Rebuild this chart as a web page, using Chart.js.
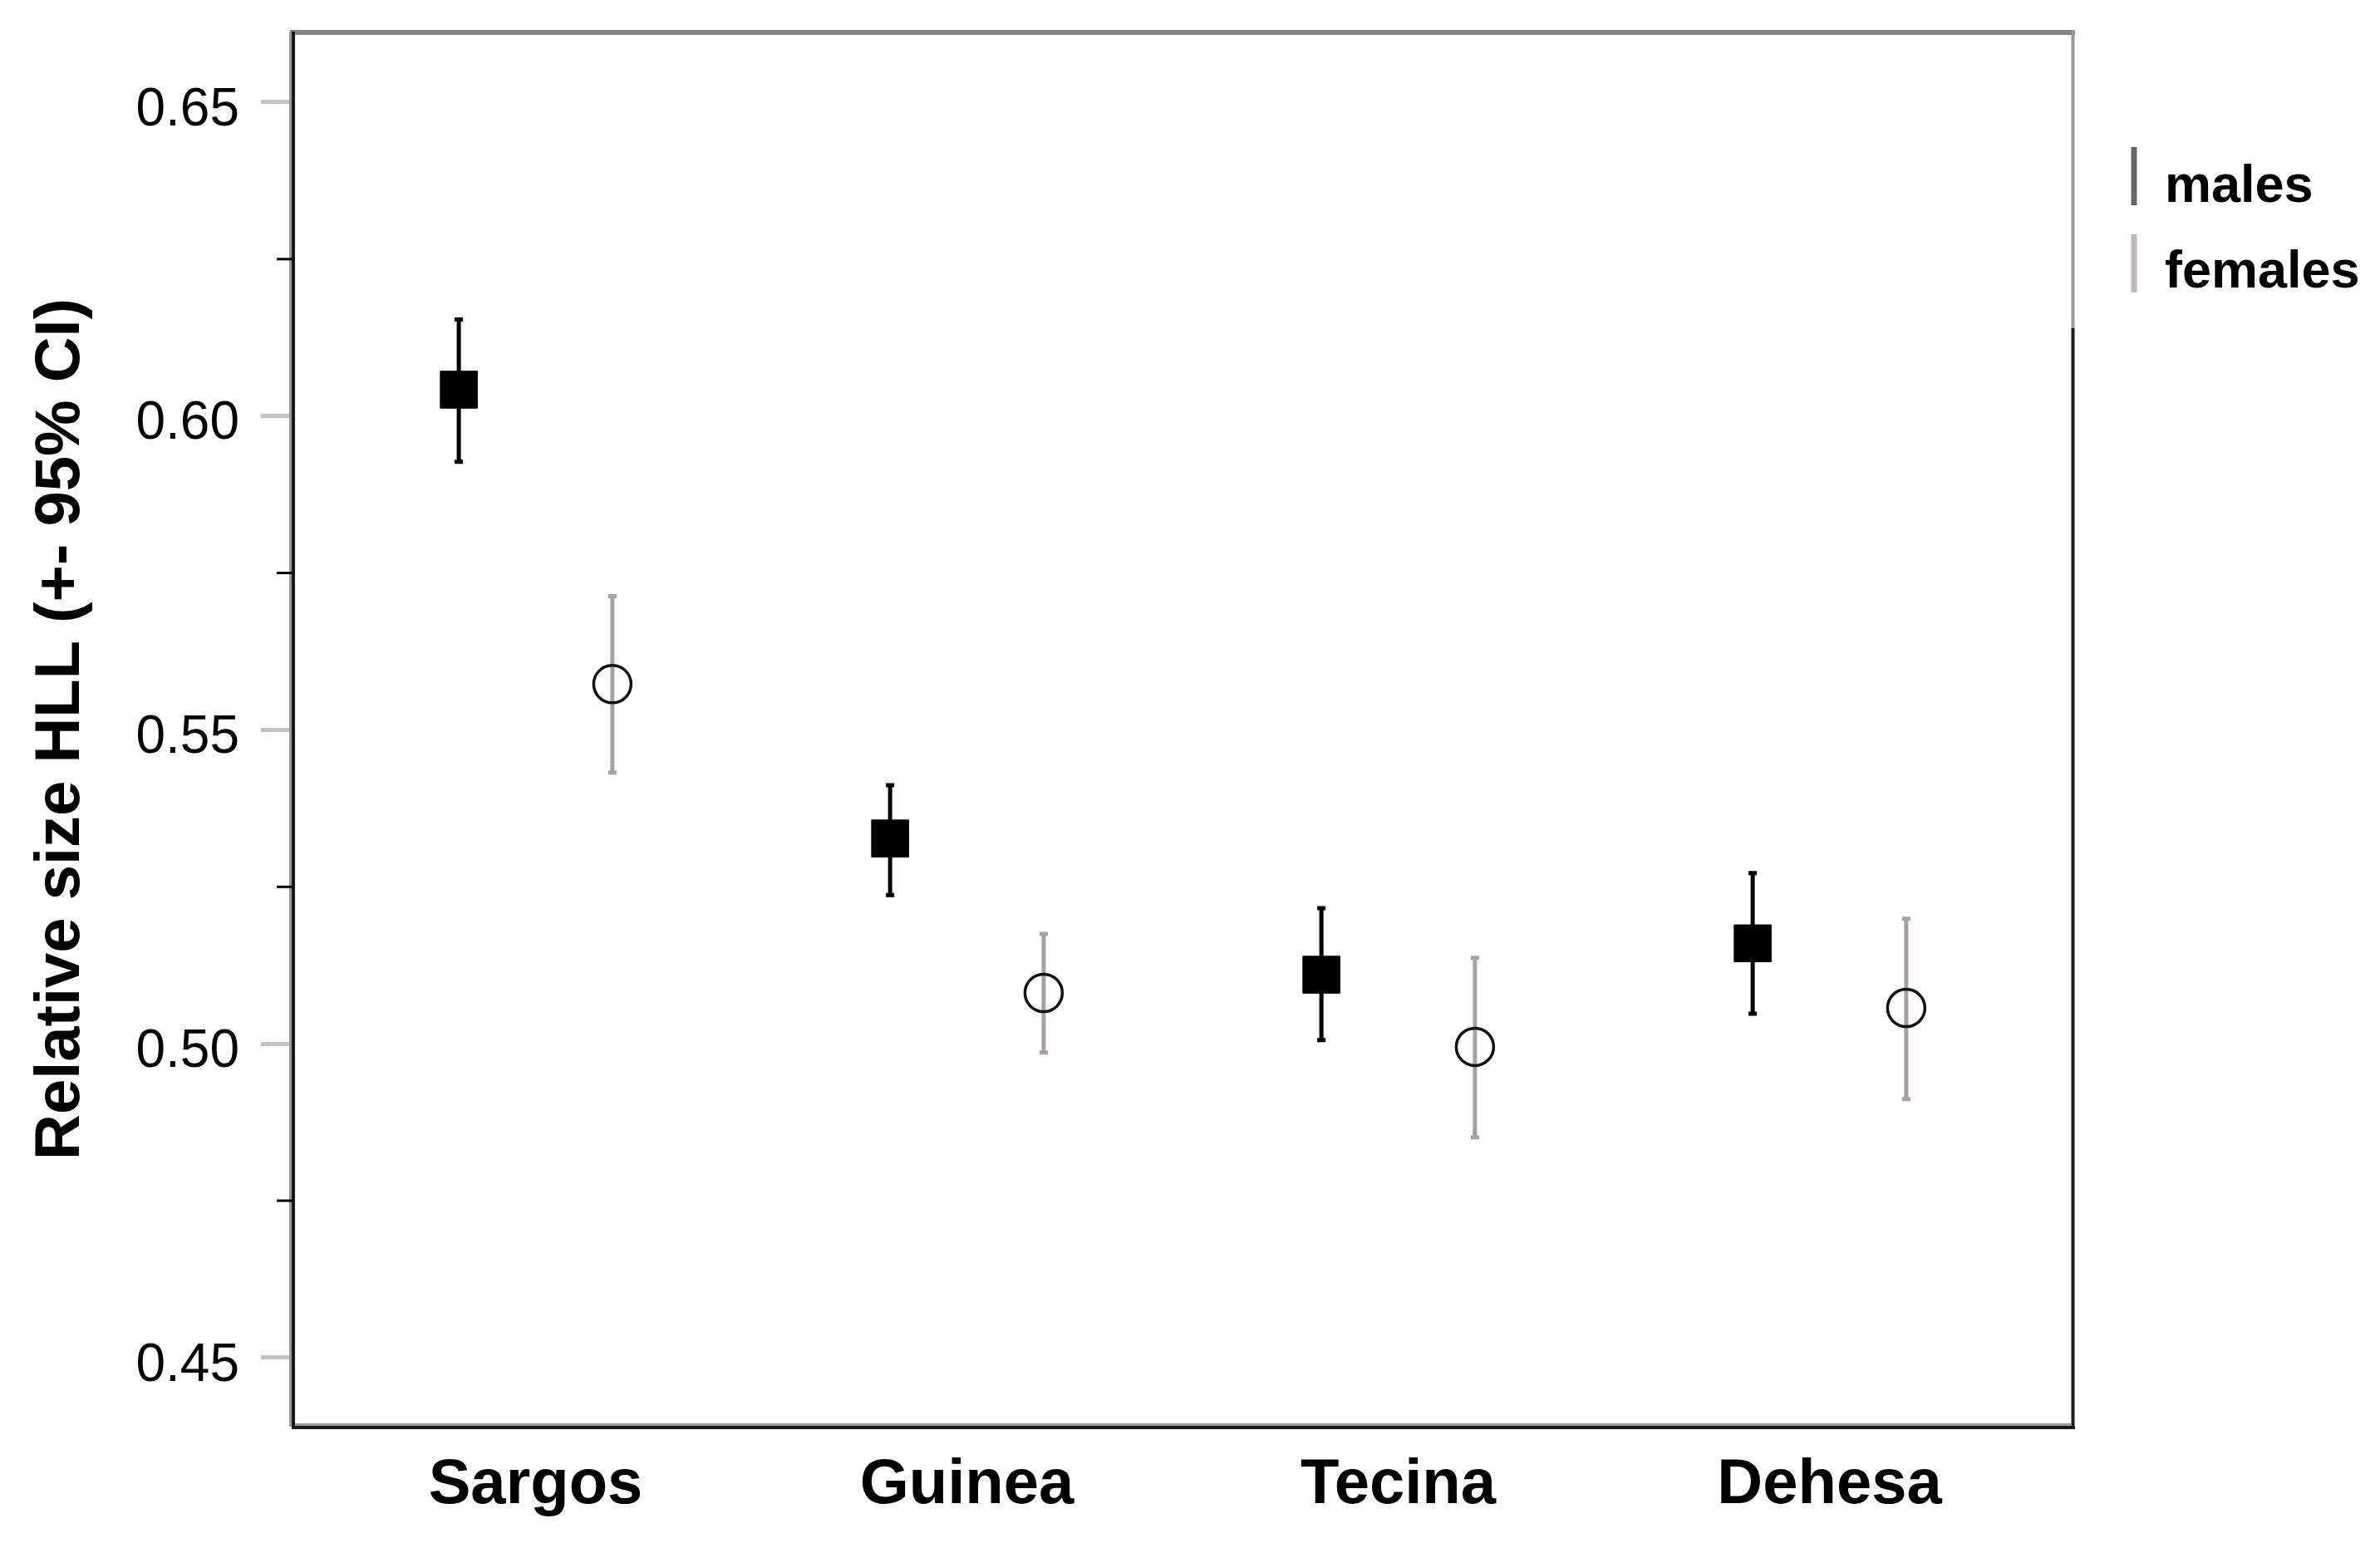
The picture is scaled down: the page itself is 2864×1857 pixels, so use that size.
<!DOCTYPE html>
<html>
<head>
<meta charset="utf-8">
<title>Relative size HLL</title>
<script src="https://cdn.jsdelivr.net/npm/chart.js@4.4.1/dist/chart.umd.min.js"></script>
<style>
  html, body { margin: 0; padding: 0; background: #fff; }
  #wrap { width: 2864px; height: 1857px; }
</style>
</head>
<body>
<div id="wrap"><canvas id="chart" width="2864" height="1857"></canvas></div>
<script>
// values
const categories = ['Sargos', 'Guinea', 'Tecina', 'Dehesa'];
const maleMean = [0.6042, 0.5327, 0.5110, 0.5160];
const maleLow = [0.5927, 0.5237, 0.5006, 0.5048];
const maleHigh = [0.6154, 0.5412, 0.5216, 0.5272];
const femaleMean = [0.5573, 0.5081, 0.4995, 0.5057];
const femaleLow = [0.5432, 0.4986, 0.4851, 0.4912];
const femaleHigh = [0.5713, 0.5175, 0.5137, 0.5199];
const seriesNames = ['males', 'females'];
const yTicks = [0.45, 0.475, 0.50, 0.525, 0.55, 0.575, 0.60, 0.625, 0.65];
const yTickLabels = ['0.45', '', '0.50', '', '0.55', '', '0.60', '', '0.65'];

const FONT = "'Liberation Sans', Arial, Helvetica, sans-serif";
const dodge = 0.178;

const points = (means, off) => means.map((v, i) => ({ x: i + off, y: v }));

// CI whiskers, drawn under the markers
const errorBars = {
  id: 'errorBars',
  beforeDatasetsDraw(chart) {
    const { ctx, scales: { x, y } } = chart;
    chart.data.datasets.forEach(ds => {
      ctx.save();
      ctx.strokeStyle = ds.barColor;
      ctx.lineWidth = 5;
      ds.data.forEach((p, i) => {
        const px = x.getPixelForValue(p.x);
        const top = y.getPixelForValue(ds.high[i]), bot = y.getPixelForValue(ds.low[i]);
        ctx.beginPath();
        ctx.moveTo(px, top); ctx.lineTo(px, bot);
        ctx.moveTo(px - 5, top); ctx.lineTo(px + 5, top);
        ctx.moveTo(px - 5, bot); ctx.lineTo(px + 5, bot);
        ctx.stroke();
      });
      ctx.restore();
    });
  }
};

// box round the plot, minor ticks and the legend on the right
const frame = {
  id: 'frame',
  afterDraw(chart) {
    const { ctx, chartArea: a, scales: { y } } = chart;
    ctx.save();
    const line = (x1, y1, x2, y2, c, w) => {
      ctx.beginPath(); ctx.strokeStyle = c; ctx.lineWidth = w;
      ctx.moveTo(x1, y1); ctx.lineTo(x2, y2); ctx.stroke();
    };
    line(a.left - 3, a.top + 1, a.right + 3, a.top + 1, '#858585', 6);
    line(a.right + 0.5, a.top - 2, a.right + 0.5, 395, '#999999', 4);
    line(a.right + 0.5, 395, a.right + 0.5, a.bottom + 3, '#1a1a1a', 4);
    line(a.left - 2.5, a.top, a.left - 2.5, a.bottom, '#9a9a9a', 3);
    line(a.left + 1, a.top, a.left + 1, a.bottom + 3, '#1a1a1a', 4);
    line(a.left + 3, a.bottom - 2.5, a.right - 2, a.bottom - 2.5, '#9a9a9a', 3);
    line(a.left - 1, a.bottom + 1, a.right + 3, a.bottom + 1, '#1a1a1a', 4);

    y.ticks.forEach((t, i) => {
      if (yTickLabels[i]) return;
      const py = y.getPixelForValue(t.value);
      line(a.left - 19, py, a.left, py, '#000', 3);
    });

    const colors = ['#666666', '#c2baba'];
    ctx.font = 'bold 63px ' + FONT;
    ctx.fillStyle = '#000';
    ctx.textBaseline = 'alphabetic';
    chart.data.datasets.forEach((ds, i) => {
      const top = 177 + i * 105;
      line(2568, top, 2568, top + 70, colors[i], 7);
      ctx.fillText(ds.label, 2605, 243 + i * 103);
    });
    ctx.restore();
  }
};

new Chart(document.getElementById('chart'), {
  type: 'scatter',
  data: {
    datasets: [
      {
        label: seriesNames[0],
        data: points(maleMean, -dodge),
        low: maleLow, high: maleHigh, barColor: '#000',
        pointStyle: 'rect', pointRadius: 31.5, borderWidth: 1,
        backgroundColor: '#000', borderColor: '#000'
      },
      {
        label: seriesNames[1],
        data: points(femaleMean, dodge),
        low: femaleLow, high: femaleHigh, barColor: '#a9a1a1',
        pointStyle: 'circle', pointRadius: 22.5, borderWidth: 3.5,
        backgroundColor: 'rgba(0,0,0,0)', borderColor: '#111'
      }
    ]
  },
  options: {
    responsive: false,
    animation: false,
    layout: { padding: { top: 38, right: 370, left: 0, bottom: 0 } },
    plugins: { legend: { display: false }, tooltip: { enabled: false } },
    scales: {
      x: {
        type: 'linear', min: -0.5636, max: 3.5636,
        afterBuildTicks: s => { s.ticks = categories.map((c, i) => ({ value: i })); },
        afterFit: s => { s.height = 140; s.paddingLeft = 0; s.paddingRight = 0; },
        grid: { display: false, drawTicks: false },
        border: { display: false },
        ticks: {
          autoSkip: false, maxRotation: 0, padding: 25, color: '#000',
          font: { family: FONT, size: 76, weight: 'bold' },
          callback: (v, i) => categories[i]
        }
      },
      y: {
        min: 0.439, max: 0.66125,
        afterBuildTicks: s => { s.ticks = yTicks.map(v => ({ value: v })); },
        afterFit: s => { s.width = 352; s.paddingTop = 0; s.paddingBottom = 0; },
        grid: {
          drawOnChartArea: false, tickLength: 38, tickWidth: 5,
          tickColor: c => yTickLabels[c.index] ? '#c4c4c4' : 'rgba(0,0,0,0)'
        },
        border: { display: false },
        ticks: {
          autoSkip: false, padding: 26, labelOffset: 10, color: '#000',
          font: { family: FONT, size: 64 },
          callback: (v, i) => yTickLabels[i]
        },
        title: {
          display: true, text: 'Relative size HLL (+- 95% CI)', color: '#000',
          padding: { top: 28, bottom: 0 },
          font: { family: FONT, size: 76, weight: 'bold' }
        }
      }
    }
  },
  plugins: [errorBars, frame]
});
</script>
</body>
</html>
